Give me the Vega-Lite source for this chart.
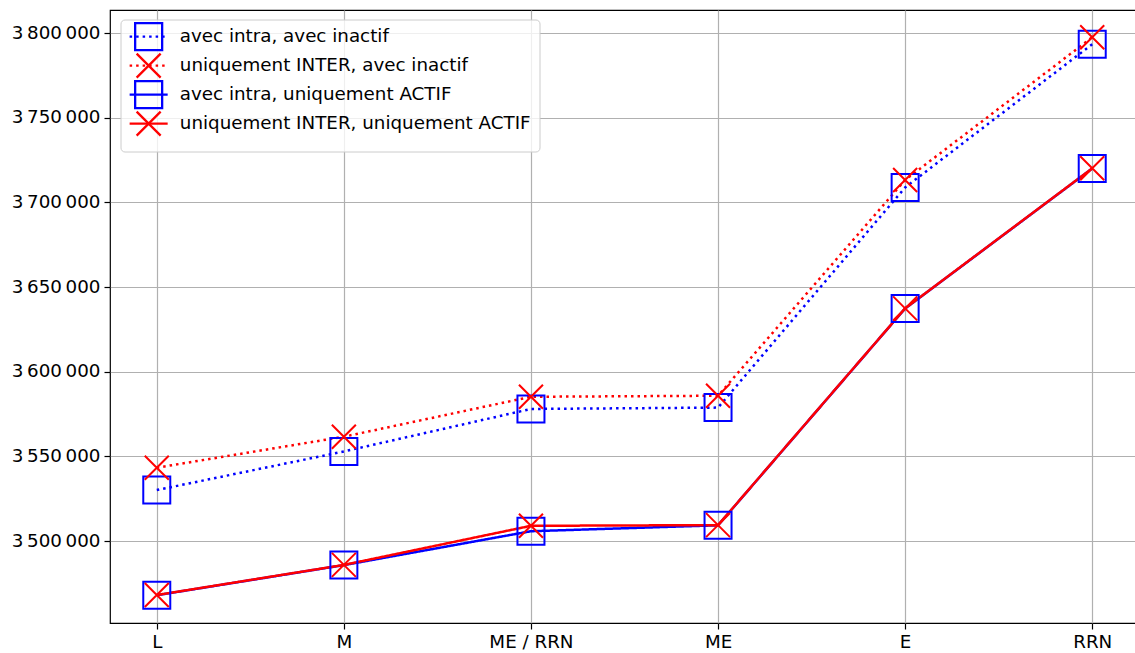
{
  "$schema": "https://vega.github.io/schema/vega-lite/v6.json",
  "width": 1029,
  "height": 613,
  "autosize": {"type": "none"},
  "padding": {"left": 110, "top": 10, "right": 0, "bottom": 30},
  "background": "white",
  "data": {
    "values": [
      {"cat": "L", "serie": "avec intra, avec inactif", "value": 3530100},
      {"cat": "M", "serie": "avec intra, avec inactif", "value": 3552900},
      {"cat": "ME / RRN", "serie": "avec intra, avec inactif", "value": 3578000},
      {"cat": "ME", "serie": "avec intra, avec inactif", "value": 3578800},
      {"cat": "E", "serie": "avec intra, avec inactif", "value": 3708800},
      {"cat": "RRN", "serie": "avec intra, avec inactif", "value": 3793400},
      {"cat": "L", "serie": "uniquement INTER, avec inactif", "value": 3543300},
      {"cat": "M", "serie": "uniquement INTER, avec inactif", "value": 3561600},
      {"cat": "ME / RRN", "serie": "uniquement INTER, avec inactif", "value": 3585200},
      {"cat": "ME", "serie": "uniquement INTER, avec inactif", "value": 3585800},
      {"cat": "E", "serie": "uniquement INTER, avec inactif", "value": 3713200},
      {"cat": "RRN", "serie": "uniquement INTER, avec inactif", "value": 3797500},
      {"cat": "L", "serie": "avec intra, uniquement ACTIF", "value": 3468000},
      {"cat": "M", "serie": "avec intra, uniquement ACTIF", "value": 3485800},
      {"cat": "ME / RRN", "serie": "avec intra, uniquement ACTIF", "value": 3505800},
      {"cat": "ME", "serie": "avec intra, uniquement ACTIF", "value": 3509300},
      {"cat": "E", "serie": "avec intra, uniquement ACTIF", "value": 3637300},
      {"cat": "RRN", "serie": "avec intra, uniquement ACTIF", "value": 3720000},
      {"cat": "L", "serie": "uniquement INTER, uniquement ACTIF", "value": 3468100},
      {"cat": "M", "serie": "uniquement INTER, uniquement ACTIF", "value": 3485900},
      {"cat": "ME / RRN", "serie": "uniquement INTER, uniquement ACTIF", "value": 3509000},
      {"cat": "ME", "serie": "uniquement INTER, uniquement ACTIF", "value": 3509400},
      {"cat": "E", "serie": "uniquement INTER, uniquement ACTIF", "value": 3637400},
      {"cat": "RRN", "serie": "uniquement INTER, uniquement ACTIF", "value": 3720100}
    ]
  },
  "encoding": {
    "x": {
      "field": "cat",
      "type": "ordinal",
      "sort": ["L", "M", "ME / RRN", "ME", "E", "RRN"],
      "scale": {"type": "point", "padding": 0.25},
      "axis": {"labelAngle": 0, "labelPadding": 4, "grid": true}
    },
    "y": {
      "field": "value",
      "type": "quantitative",
      "scale": {"domain": [3451600, 3813600], "nice": false, "zero": false},
      "axis": {
        "values": [3500000, 3550000, 3600000, 3650000, 3700000, 3750000, 3800000],
        "labelExpr": "replace(replace(format(datum.value, ','), ',', '\u2009'), ',', '\u2009')",
        "labelPadding": 4,
        "grid": true
      }
    },
    "color": {
      "field": "serie",
      "type": "nominal",
      "scale": {
        "domain": ["avec intra, avec inactif", "uniquement INTER, avec inactif", "avec intra, uniquement ACTIF", "uniquement INTER, uniquement ACTIF"],
        "range": ["#0000ff", "#ff0000", "#0000ff", "#ff0000"]
      },
      "legend": {
        "title": null,
        "orient": "none",
        "legendX": 10.5,
        "legendY": 9.5,
        "symbolType": "M-3.17,-2.4M-3.17,0H3.17M3.17,2.4",
        "symbolSize": 144,
        "symbolOffset": 11,
        "symbolStrokeWidth": 2.3,
        "labelFont": "DejaVu Sans",
        "labelFontSize": 18.3,
        "labelColor": "black",
        "labelLimit": 0,
        "labelOffset": 22,
        "padding": 8,
        "rowPadding": -20,
        "fillColor": "rgba(255,255,255,0.8)",
        "strokeColor": "#cccccc",
        "cornerRadius": 4,
        "zindex": 1
      }
    }
  },
  "layer": [
    {
      "mark": {"type": "line", "strokeWidth": 2.5},
      "encoding": {
        "strokeDash": {
          "field": "serie",
          "type": "nominal",
          "scale": {
            "domain": ["avec intra, avec inactif", "uniquement INTER, avec inactif", "avec intra, uniquement ACTIF", "uniquement INTER, uniquement ACTIF"],
            "range": [[2.5, 4], [2.5, 4], [1, 0], [1, 0]]
          }
        }
      }
    },
    {
      "mark": {"type": "point", "filled": false, "size": 144, "strokeWidth": 2, "opacity": 1},
      "encoding": {
        "shape": {
          "field": "serie",
          "type": "nominal",
          "sort": ["avec intra, avec inactif", "uniquement INTER, avec inactif", "avec intra, uniquement ACTIF", "uniquement INTER, uniquement ACTIF"],
          "scale": {
            "range": [
              "M-3.17,-2.4M-2.25,-2.25H2.25V2.25H-2.25ZM3.17,2.4",
              "M-3.17,-2.4M-2,-2L2,2M-2,2L2,-2M3.17,2.4",
              "M-3.17,-2.4M-2.25,-2.25H2.25V2.25H-2.25ZM3.17,2.4",
              "M-3.17,-2.4M-2,-2L2,2M-2,2L2,-2M3.17,2.4"
            ]
          },
          "legend": {
            "title": null,
            "orient": "none",
            "legendX": 10.5,
            "legendY": 9.5,
            "symbolSize": 144,
            "symbolOffset": 11,
            "symbolStrokeWidth": 2.3,
            "symbolFillColor": "transparent",
            "symbolStrokeColor": {"expr": "scale('color', datum.value)"},
            "labelFont": "DejaVu Sans",
            "labelFontSize": 18.3,
            "labelLimit": 0,
            "labelOpacity": 0,
            "labelOffset": 22,
            "padding": 8,
            "rowPadding": -20,
            "zindex": 2
          }
        }
      }
    }
  ],
  "config": {
    "font": "DejaVu Sans",
    "view": {"stroke": "black", "strokeWidth": 1.2},
    "axis": {
      "title": null,
      "labelFont": "DejaVu Sans",
      "labelFontSize": 18.3,
      "labelColor": "black",
      "domain": false,
      "ticks": true,
      "tickColor": "black",
      "tickSize": 6,
      "tickWidth": 1.2,
      "gridColor": "#b0b0b0",
      "gridWidth": 1.2
    }
  }
}
